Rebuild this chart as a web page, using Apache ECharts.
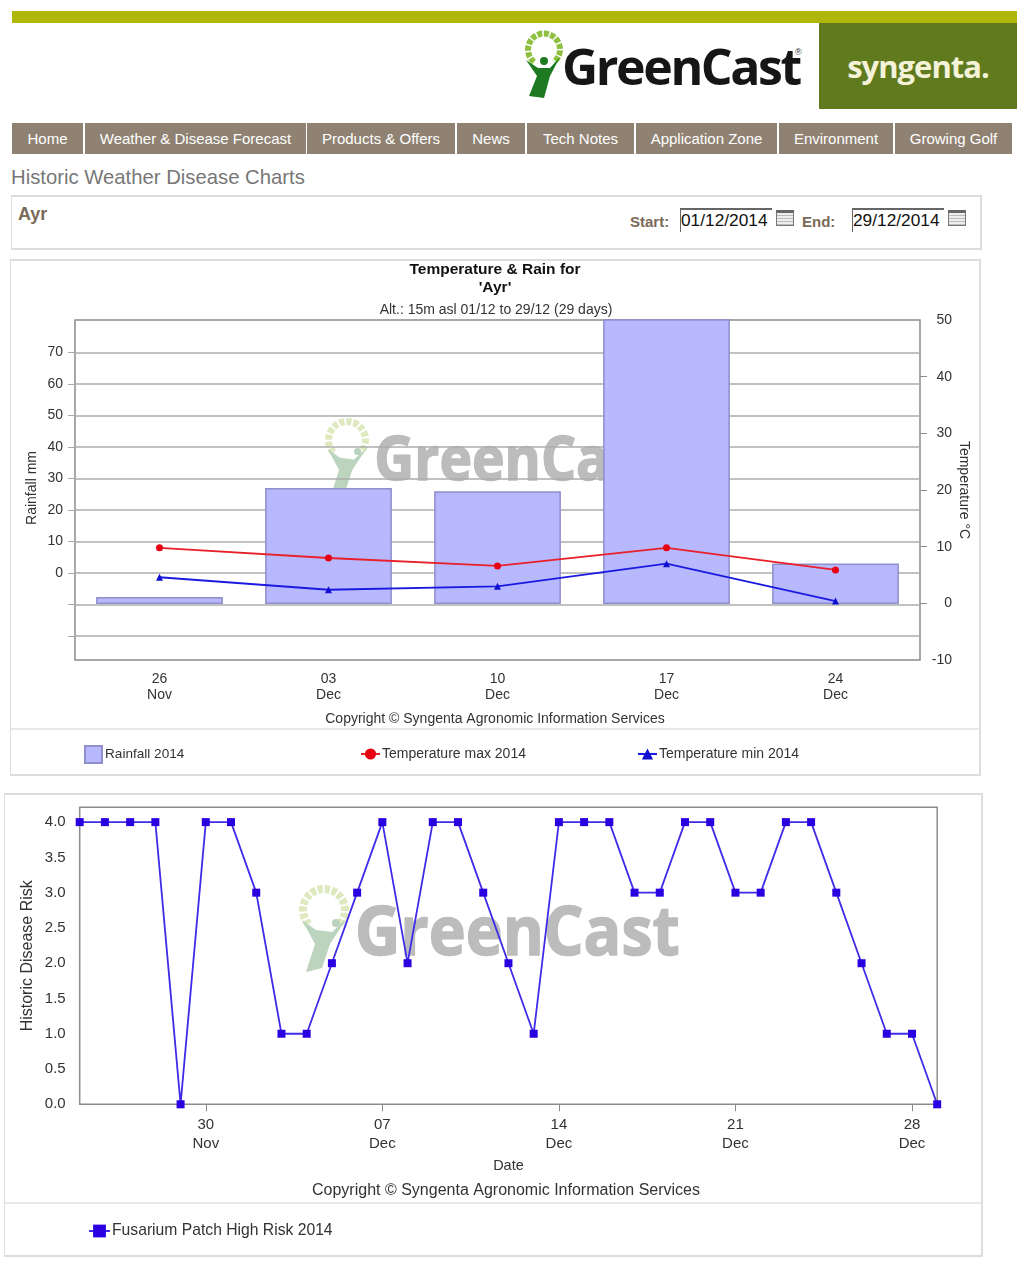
<!DOCTYPE html>
<html>
<head>
<meta charset="utf-8">
<title>Historic Weather Disease Charts</title>
<script src="https://cdn.jsdelivr.net/npm/echarts@6/dist/echarts.min.js"></script>
<style>
html, body { margin: 0; padding: 0; background: #fff; }
body { width: 1024px; height: 1262px; position: relative; overflow: hidden; font-family: "Liberation Sans", Arial, sans-serif; }
.abs { position: absolute; box-sizing: border-box; }
.topbar { left: 12px; top: 11px; width: 1005px; height: 12px; background: #aeb70a; }
.brand { left: 819px; top: 23px; width: 198px; height: 86px; background: #607a1e; color: #f4f2d8; font: bold 31px/86px "Open Sans", sans-serif; text-align: center; letter-spacing: -1px; }
.logo { left: 562px; top: 34px; color: #161616; font: bold 50px/64px "Open Sans", sans-serif; letter-spacing: -2.4px; }
.reg { left: 795px; top: 47px; color: #333; font-size: 9px; }
.nav { top: 123px; height: 31px; background: #8f8272; color: #fff; font-size: 15px; line-height: 31px; text-align: center; }
.heading { left: 11px; top: 165px; color: #777; font-size: 20.3px; line-height: 24px; }
.panel { border: 1px solid #ddd; border-width: 2px 2px 2px 1px; }
.place { left: 18px; top: 203px; color: #7a6a58; font: bold 18px/22px "Liberation Sans", sans-serif; }
.lab { top: 213px; color: #7a6a58; font: bold 15px/18px "Liberation Sans", sans-serif; }
.date { top: 208px; width: 92px; height: 24px; color: #111; font-size: 17.3px; line-height: 21px; border-top: 2px solid #666; border-left: 1px solid #666; }
.cal { top: 210px; width: 18px; height: 16px; background: repeating-linear-gradient(0deg, #bbb 0 1px, #eee 1px 3px); border: 1px solid #777; border-top: 3px solid #666; }
.sep { height: 2px; background: #e8e8e8; }
#rain-chart { left: 0; top: 255px; width: 1024px; height: 525px; }
#risk-chart { left: 0; top: 790px; width: 1024px; height: 472px; }
</style>
</head>
<body>
<div class="abs topbar"></div>
<svg class="abs" style="left:520px;top:30px" width="44" height="70" viewBox="0 0 44 70">
  <path d="M14 32 A16 16 0 1 1 34 32" fill="none" stroke="#8fbf3f" stroke-width="6" stroke-dasharray="5 1.5"/>
  <circle cx="24" cy="31" r="4" fill="#1d7a22"/>
  <path d="M6 30 L18 38 L30 38 L40 27 L30 46 L24 68 L9 66 L17 46 Z" fill="#1d7a22"/>
</svg>
<div class="abs logo">GreenCast</div>
<div class="abs reg">®</div>
<div class="abs brand">syngenta.</div>
<div class="abs nav" style="left:12px;width:71px">Home</div>
<div class="abs nav" style="left:85px;width:221px">Weather &amp; Disease Forecast</div>
<div class="abs nav" style="left:307px;width:148px">Products &amp; Offers</div>
<div class="abs nav" style="left:457px;width:68px">News</div>
<div class="abs nav" style="left:527px;width:107px">Tech Notes</div>
<div class="abs nav" style="left:636px;width:141px">Application Zone</div>
<div class="abs nav" style="left:779px;width:114px">Environment</div>
<div class="abs nav" style="left:895px;width:117px">Growing Golf</div>
<div class="abs heading">Historic Weather Disease Charts</div>
<div class="abs panel" style="left:11px;top:195px;width:971px;height:55px"></div>
<div class="abs place">Ayr</div>
<div class="abs lab" style="left:630px">Start:</div>
<div class="abs date" style="left:680px">01/12/2014</div>
<div class="abs cal" style="left:776px"></div>
<div class="abs lab" style="left:802px">End:</div>
<div class="abs date" style="left:852px">29/12/2014</div>
<div class="abs cal" style="left:948px"></div>
<div class="abs panel" style="left:10px;top:259px;width:971px;height:517px"></div>
<div class="abs sep" style="left:11px;top:728px;width:968px"></div>
<div class="abs panel" style="left:4px;top:793px;width:979px;height:464px"></div>
<div class="abs sep" style="left:5px;top:1202px;width:976px"></div>
<div id="rain-chart" class="abs"></div>
<div id="risk-chart" class="abs"></div>
<script>
var weekLabels = ['26\nNov', '03\nDec', '10\nDec', '17\nDec', '24\nDec'];
var rainfall = [2.2, 36.6, 35.6, 90, 12.8];
var tempMax = [9.8, 8.0, 6.6, 9.8, 5.9];
var tempMin = [4.6, 2.4, 3.0, 7.0, 0.4];
var rainLabels = [0, 10, 20, 30, 40, 50, 60, 70];
var rainTicks = [-20, -10, 0, 10, 20, 30, 40, 50, 60, 70];
var tempTicks = [0, 10, 20, 30, 40];

var riskDays = ['25\nNov', '26\nNov', '27\nNov', '28\nNov', '29\nNov', '30\nNov',
    '01\nDec', '02\nDec', '03\nDec', '04\nDec', '05\nDec', '06\nDec', '07\nDec', '08\nDec',
    '09\nDec', '10\nDec', '11\nDec', '12\nDec', '13\nDec', '14\nDec', '15\nDec', '16\nDec',
    '17\nDec', '18\nDec', '19\nDec', '20\nDec', '21\nDec', '22\nDec', '23\nDec', '24\nDec',
    '25\nDec', '26\nDec', '27\nDec', '28\nDec', '29\nDec'];
var fusarium = [4, 4, 4, 4, 0, 4, 4, 3, 1, 1, 2, 3, 4, 2, 4, 4, 3, 2, 1, 4, 4, 4, 3, 3, 4, 4, 3, 3, 4, 4, 3, 2, 1, 1, 0];

var FONT = '"Liberation Sans", Arial, sans-serif';
var TEXT = '#333';

// faded GreenCast logo behind the plot
function watermark(x, y, size) {
    var k = size / 68;
    return [
        { type: 'arc', z: -1, shape: { cx: x, cy: y, r: 21 * k, startAngle: 2.4, endAngle: 0.75 },
            style: { fill: null, stroke: '#dfe9c0', lineWidth: 8 * k, lineDash: [5, 2] } },
        { type: 'circle', z: -1, shape: { cx: x + 12 * k, cy: y + 13 * k, r: 4 * k }, style: { fill: '#b9d2bb' } },
        { type: 'polygon', z: -1, shape: { points: [
            [x - 22 * k, y + 10 * k], [x - 8 * k, y + 20 * k], [x + 8 * k, y + 22 * k], [x + 23 * k, y + 8 * k],
            [x + 6 * k, y + 34 * k], [x - 2 * k, y + 58 * k], [x - 18 * k, y + 62 * k], [x - 9 * k, y + 34 * k]
        ] }, style: { fill: '#bcd3bd' } },
        { type: 'text', z: -1, x: x + 31 * k, y: y - 8 * k, scaleX: 0.92,
            style: { text: 'GreenCast', fill: '#bcbcbc', stroke: '#bcbcbc', lineWidth: 1.5, font: 'bold ' + size + 'px "Open Sans", sans-serif' } }
    ];
}

var rainChart = echarts.init(document.getElementById('rain-chart'));
rainChart.setOption({
    animation: false,
    textStyle: { fontFamily: FONT, color: TEXT },
    title: [
        { text: "Temperature & Rain for\n'Ayr'", left: 490, textAlign: 'center', top: 1,
            textStyle: { fontFamily: FONT, fontSize: 15.5, fontWeight: 'bold', color: '#111', lineHeight: 18 } },
        { text: 'Alt.: 15m asl 01/12 to 29/12 (29 days)', left: 491, textAlign: 'center', top: 43,
            textStyle: { fontFamily: FONT, fontSize: 14, fontWeight: 'normal', color: TEXT } },
        { text: 'Copyright © Syngenta Agronomic Information Services', left: 490, textAlign: 'center', top: 452,
            textStyle: { fontFamily: FONT, fontSize: 14, fontWeight: 'normal', color: TEXT } }
    ],
    legend: [
        { data: [{ name: 'Rainfall 2014', icon: 'rect' }], left: 79, top: 485, itemWidth: 17, itemHeight: 17, textStyle: { fontFamily: FONT, fontSize: 13.6, color: TEXT, padding: [0, 0, 0, -2] } },
        { data: ['Temperature max 2014'], left: 355, top: 487, itemWidth: 19, itemHeight: 14, textStyle: { fontFamily: FONT, fontSize: 14, color: TEXT, padding: [0, 0, 0, -3] } },
        { data: ['Temperature min 2014'], left: 632, top: 487, itemWidth: 19, itemHeight: 14, textStyle: { fontFamily: FONT, fontSize: 14, color: TEXT, padding: [0, 0, 0, -3] } }
    ],
    // the second grid only carries the rainfall scale, it runs slightly past the plot box
    grid: [
        { left: 75, top: 65, width: 845, height: 340, show: true, borderColor: '#8c8c8c', borderWidth: 1.5 },
        { left: 75, top: 66, width: 845, height: 346.5 }
    ],
    xAxis: [
        {
            type: 'category',
            data: weekLabels,
            axisLine: { show: false },
            axisTick: { alignWithLabel: true, length: 7, lineStyle: { color: '#8c8c8c' } },
            axisLabel: { color: TEXT, fontSize: 14, lineHeight: 16, margin: 11 }
        },
        { type: 'category', gridIndex: 1, data: weekLabels, show: false }
    ],
    yAxis: [
        {
            type: 'value', gridIndex: 1, min: -30, max: 80, interval: 10,
            axisLine: { show: false },
            axisTick: { show: true, length: 7, customValues: rainTicks, lineStyle: { color: '#a8a8a8' } },
            axisLabel: {
                color: TEXT, fontSize: 14, margin: 12,
                formatter: function (v) { return rainLabels.indexOf(v) >= 0 ? String(v) : ''; }
            },
            splitLine: { show: true, lineStyle: { color: '#adadad', width: 1.5 } }
        },
        {
            type: 'value', position: 'right', min: -10, max: 50, interval: 10,
            name: 'Temperature °C', nameLocation: 'middle', nameGap: 37, nameRotate: -90, nameMoveOverlap: false,
            nameTextStyle: { color: TEXT, fontSize: 14 },
            axisLine: { show: false },
            axisTick: { show: true, length: 7, customValues: tempTicks, lineStyle: { color: '#8c8c8c' } },
            axisLabel: { color: TEXT, fontSize: 14, margin: 32, align: 'right' },
            splitLine: { show: false }
        },
        // rainfall itself is measured up from the temperature zero line in the original
        { type: 'value', show: false, min: -17.67, max: 89.6 }
    ],
    graphic: watermark(347, 185, 60).concat([
        { type: 'text', x: 32, y: 233, rotation: Math.PI / 2, originX: 0, originY: 0,
            style: { text: 'Rainfall mm', fill: TEXT, align: 'center', verticalAlign: 'middle', font: '14px ' + FONT } }
    ]),
    series: [
        {
            name: 'Rainfall 2014', type: 'bar', yAxisIndex: 2, data: rainfall, barWidth: '75%',
            itemStyle: { color: '#b8b8ff', borderColor: '#8f8fcc', borderWidth: 1.5 }
        },
        {
            name: 'Temperature max 2014', type: 'line', yAxisIndex: 1, data: tempMax,
            symbol: 'circle', symbolSize: 7, itemStyle: { color: '#e60012' }, lineStyle: { color: '#e8202a', width: 1.8 }
        },
        {
            name: 'Temperature min 2014', type: 'line', yAxisIndex: 1, data: tempMin,
            symbol: 'triangle', symbolSize: 7, itemStyle: { color: '#1010d0' }, lineStyle: { color: '#1a1ae0', width: 1.8 }
        }
    ]
});

var riskChart = echarts.init(document.getElementById('risk-chart'));
riskChart.setOption({
    animation: false,
    textStyle: { fontFamily: FONT, color: TEXT },
    title: [
        { text: 'Copyright © Syngenta Agronomic Information Services', left: 501, textAlign: 'center', top: 388,
            textStyle: { fontFamily: FONT, fontSize: 16, fontWeight: 'normal', color: TEXT } }
    ],
    legend: {
        data: ['Fusarium Patch High Risk 2014'], left: 83, top: 428, itemWidth: 21, itemHeight: 16,
        textStyle: { fontFamily: FONT, fontSize: 15.7, color: TEXT, padding: [0, 0, 0, -3] }
    },
    grid: { left: 79.7, top: 17.3, width: 857.5, height: 297, show: true, borderColor: '#8c8c8c', borderWidth: 1.5 },
    xAxis: {
        type: 'category', boundaryGap: false, data: riskDays,
        name: 'Date', nameLocation: 'middle', nameGap: 49,
        nameTextStyle: { color: TEXT, fontSize: 14.5 },
        axisLine: { show: false },
        axisTick: { length: 7, interval: function (i) { return (i + 2) % 7 === 0; }, lineStyle: { color: '#8c8c8c' } },
        axisLabel: {
            color: TEXT, fontSize: 15, lineHeight: 19, margin: 11,
            interval: function (i) { return (i + 2) % 7 === 0; }
        }
    },
    yAxis: {
        type: 'value', min: 0, max: 4.21, interval: 0.5,
        name: 'Historic Disease Risk', nameLocation: 'middle', nameGap: 44, nameRotate: 90, nameMoveOverlap: false,
        nameTextStyle: { color: TEXT, fontSize: 16 },
        axisLine: { show: false },
        axisTick: { length: 7, lineStyle: { color: '#8c8c8c' } },
        axisLabel: { color: TEXT, fontSize: 15, margin: 14, showMaxLabel: false,
            formatter: function (v) { return v.toFixed(1); } },
        splitLine: { show: false }
    },
    graphic: watermark(324, 120, 68),
    series: [{
        name: 'Fusarium Patch High Risk 2014', type: 'line', data: fusarium, clip: false,
        symbol: 'rect', symbolSize: 8, itemStyle: { color: '#2a00e0' }, lineStyle: { color: '#3f2be8', width: 1.8 }
    }]
});
</script>
</body>
</html>
